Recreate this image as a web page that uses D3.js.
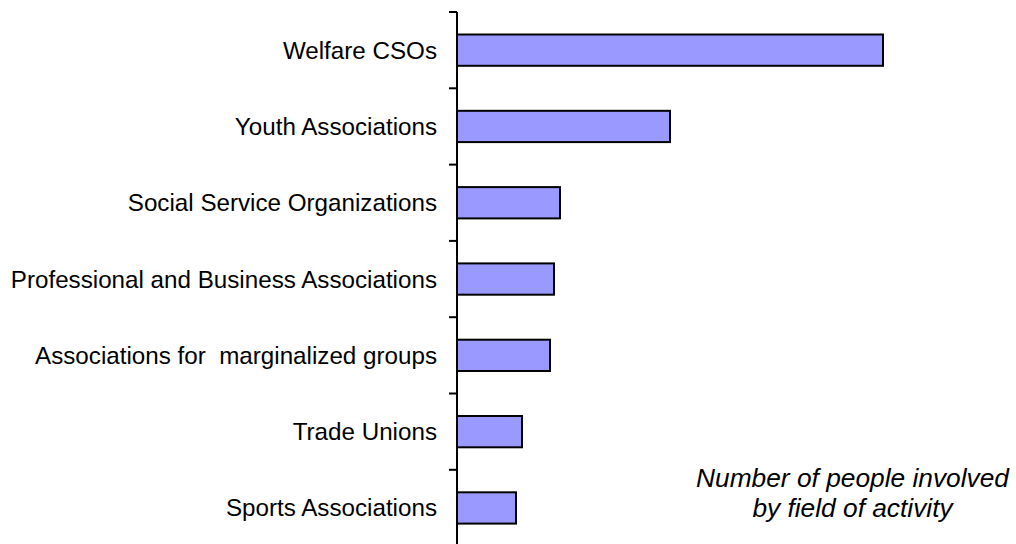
<!DOCTYPE html>
<html>
<head>
<meta charset="utf-8">
<script src="https://cdn.jsdelivr.net/npm/d3@7"></script>
<style>
  body { margin: 0; background: #fff; }
  text { font-family: "Liberation Sans", Arial, sans-serif; }
</style>
</head>
<body>
<svg width="1016" height="544"></svg>
<script>
const svg = d3.select("svg"),
    width = +svg.attr("width"),
    height = +svg.attr("height")

// field of activity, top to bottom
const categories = [
    "Welfare CSOs",
    "Youth Associations",
    "Social Service Organizations",
    "Professional and Business Associations",
    "Associations for  marginalized groups",
    "Trade Unions",
    "Sports Associations"
]
// number of people involved (relative)
const values = [426, 213, 103, 97, 93, 65, 59]
const noteLines = ["Number of people involved", "by field of activity"]

const axisX = 457,
    plotTop = 12,
    band = 76.3

const x = d3.scaleLinear().domain([0, 426]).range([axisX, 883])
const y = d3.scaleBand()
    .domain(categories)
    .range([plotTop, plotTop + band * categories.length])
    .paddingInner(0.59)
    .paddingOuter(0.295)

// bars
svg.selectAll("rect.bar")
    .data(categories)
    .enter()
    .append("rect")
    .attr("class", "bar")
    .attr("x", x(0))
    .attr("y", d => y(d))
    .attr("width", (d, i) => x(values[i]) - x(0))
    .attr("height", y.bandwidth())
    .attr("fill", "#9999ff")
    .attr("stroke", "#000")
    .attr("stroke-width", 2)

// category labels
svg.selectAll("text.label")
    .data(categories)
    .enter()
    .append("text")
    .attr("class", "label")
    .attr("x", axisX - 20)
    .attr("y", d => y(d) + y.bandwidth() / 2)
    .attr("dy", "0.35em")
    .attr("text-anchor", "end")
    .attr("font-size", 24.2)
    .attr("fill", "#000")
    .style("white-space", "pre")
    .text(d => d)

// vertical axis line with ticks between categories
svg.append("line")
    .attr("x1", axisX).attr("x2", axisX)
    .attr("y1", plotTop).attr("y2", height)
    .attr("stroke", "#000")
    .attr("stroke-width", 2)

const tickPos = d3.range(categories.length + 1).map(i => plotTop + i * band)
svg.selectAll("line.tick")
    .data(tickPos)
    .enter()
    .append("line")
    .attr("class", "tick")
    .attr("x1", axisX - 8).attr("x2", axisX)
    .attr("y1", d => d).attr("y2", d => d)
    .attr("stroke", "#000")
    .attr("stroke-width", 2)

// note in the lower right
svg.append("text")
    .attr("x", 852.5)
    .attr("y", 487)
    .attr("text-anchor", "middle")
    .attr("font-size", 26.3)
    .attr("font-style", "italic")
    .selectAll("tspan")
    .data(noteLines)
    .enter()
    .append("tspan")
    .attr("x", 852.5)
    .attr("dy", (d, i) => i ? 30 : 0)
    .text(d => d)
</script>
</body>
</html>
